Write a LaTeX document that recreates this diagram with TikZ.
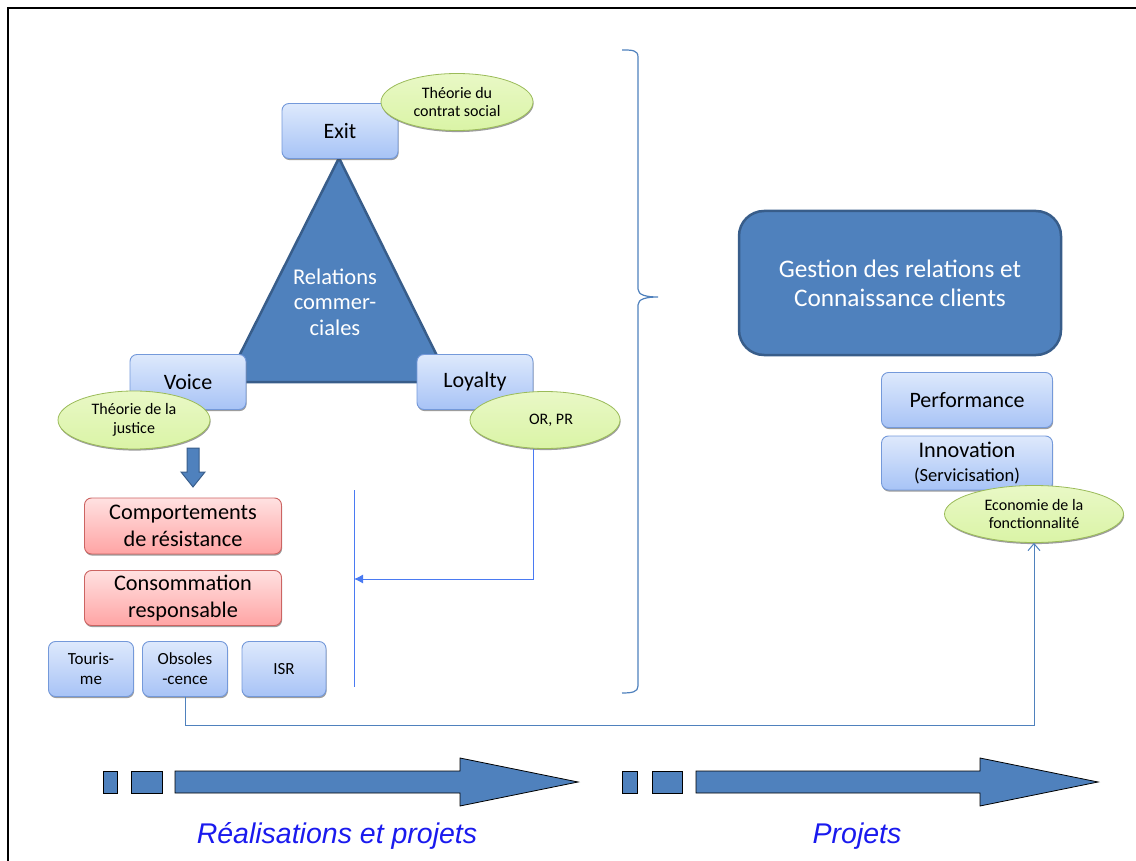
\documentclass[tikz,border=0pt]{standalone}
\usepackage{fontspec}
\setmainfont{Carlito}
\newfontfamily\arialfont{Liberation Sans}
\usetikzlibrary{shapes.geometric,shadows,arrows.meta,calc}
\definecolor{tribl}{HTML}{4F81BD}
\definecolor{tribd}{HTML}{385D8A}
\definecolor{boxtop}{HTML}{DEE9FC}
\definecolor{boxbot}{HTML}{A7C3F6}
\definecolor{boxbd}{HTML}{7499DA}
\definecolor{pinktop}{HTML}{FFE1E1}
\definecolor{pinkbot}{HTML}{FFA4A4}
\definecolor{pinkbd}{HTML}{CC6462}
\definecolor{elltop}{HTML}{E9F8C6}
\definecolor{ellbot}{HTML}{DAF4A6}
\definecolor{ellbd}{HTML}{9BBB59}
\definecolor{connA}{HTML}{4A7AF2}
\definecolor{connB}{HTML}{4F81BD}
\definecolor{labblue}{HTML}{1A1AEE}
\tikzset{
  shad/.style={drop shadow={shadow xshift=0.6pt,shadow yshift=-1.6pt,opacity=0.55,fill=black!70}},
  bluebox/.style={shad,rectangle,rounded corners=7pt,draw=boxbd,line width=0.9pt,top color=boxtop,bottom color=boxbot,align=center,inner sep=1pt,text=black},
  pinkbox/.style={shad,rectangle,rounded corners=7pt,draw=pinkbd,line width=0.9pt,top color=pinktop,bottom color=pinkbot,align=center,inner sep=1pt,text=black,minimum width=197pt,font=\fontsize{22.3}{26.5}\selectfont},
  ellnode/.style={shad,ellipse,draw=ellbd,line width=0.8pt,top color=elltop,bottom color=ellbot,align=center,inner sep=0pt,font=\fontsize{16}{18.5}\selectfont},
  bigfont/.style={font=\fontsize{22}{25}\selectfont},
  smallfont/.style={font=\fontsize{17}{20}\selectfont},
  connA/.style={draw=connA,line width=1pt},
  connB/.style={draw=connB,line width=1pt},
  fatshape/.style={fill=tribl,draw=tribd,line width=1pt},
  barshape/.style={fill=tribl,draw=black,line width=0.8pt},
  footlabel/.style={text=labblue,font=\arialfont\itshape\fontsize{28.5}{32}\selectfont}
}
\begin{document}
\begin{tikzpicture}[x=1pt,y=-1pt]
\useasboundingbox (0,0) rectangle (1136,861);
% frame
\draw[line width=2.2pt] (1136,8) -- (8,8) -- (8,861);

% triangle
\coordinate (ta) at (339,158);
\coordinate (tl) at (226,382);
\coordinate (tr) at (450,382);
\draw[fill=tribl,draw=tribd,line width=2.5pt,line join=miter] (ta) -- (tl) -- (tr) -- cycle;
\node[text=white,align=center,font=\fontsize{22.5}{25.5}\selectfont] (rel) at (335,302) {Relations\\commer-\\ciales};

% boxes around triangle
\node[bluebox,bigfont,minimum width=116pt,minimum height=55pt] (exit) at (340,131) {Exit};
\node[bluebox,bigfont,minimum width=116pt,minimum height=55pt] (voice) at (188,382) {Voice};
\node[bluebox,bigfont,minimum width=116pt,minimum height=55pt] (loyal) at (475,382) {Loyalty};

% ellipses
\node[ellnode,minimum width=152pt,minimum height=57pt] (contrat) at (457,102) {Théorie du\\contrat social};
\node[ellnode,minimum width=152pt,minimum height=58pt] (justice) at (134,420) {Théorie de la\\justice};
\node[ellnode,minimum width=150pt,minimum height=57pt] (orpr) at (545,420) {\hspace*{12pt}OR, PR};

% fat down arrow
\coordinate (fa) at (193,448);
\draw[fatshape] (187,448) -- (199,448) -- (199,472) -- (205,472) -- (193,487) -- (181,472) -- (187,472) -- cycle;

% pink boxes
\node[pinkbox,minimum height=56pt] (comp) at (183,526) {Comportements\\de résistance};
\node[pinkbox,minimum height=55pt] (cons) at (183,598) {Consommation\\responsable};

% small boxes
\node[bluebox,smallfont,minimum width=85pt,minimum height=55pt] (tour) at (91,669) {Touris-\\me};
\node[bluebox,smallfont,minimum width=85pt,minimum height=55pt] (obs) at (185,669) {Obsoles\\-cence};
\node[bluebox,smallfont,minimum width=84pt,minimum height=55pt] (isr) at (284,669) {ISR};

% vertical line and connector from OR, PR
\coordinate (vtop) at (354,490);
\coordinate (vbot) at (354,687);
\coordinate (vmid) at (354,579);
\draw[connA] (vtop) -- (vbot);
\draw[connA,-{Latex[length=9pt,width=9pt]}] ([xshift=-12pt]orpr.south) |- (vmid);

% brace
\draw[draw=connB,line width=1.2pt] (622,50) .. controls (632,50) and (638,50) .. (638,57) -- (638,289)
  .. controls (638,295) and (646,297) .. (658,297)
  .. controls (646,297) and (638,299) .. (638,305) -- (638,686)
  .. controls (638,692) and (632,693) .. (622,693);

% right side
\node[draw=tribd,fill=tribl,line width=2.5pt,rounded corners=25pt,minimum width=322pt,minimum height=144pt,text=white,align=center,font=\fontsize{25.3}{29}\selectfont] (gest) at (900,283) {Gestion des relations et\\Connaissance clients};
\node[bluebox,bigfont,minimum width=171pt,minimum height=55pt] (perf) at (967,400) {Performance};
\node[bluebox,minimum width=171pt,minimum height=54pt,font=\fontsize{22.3}{23.5}\selectfont] (innov) at (967,463) {Innovation\\{\fontsize{18.5}{20}\selectfont(Servicisation)}};
\node[ellnode,minimum width=179pt,minimum height=57pt] (econ) at (1034,514) {Economie de la\\fonctionnalité};

% connector from Obsolescence to Economie
\coordinate (lowy) at (185,725);
\draw[connB,-{Straight Barb[length=7pt,width=12pt]}] (obs.south) -- (lowy) -| (econ.south);

% bottom arrows
\draw[barshape] (103,771) rectangle (117,793);
\draw[barshape] (131,771) rectangle (162,793);
\draw[barshape] (175,771) -- (460,771) -- (460,758) -- (578,782) -- (460,806) -- (460,793) -- (175,793) -- cycle;
\draw[barshape] (622,771) rectangle (637,793);
\draw[barshape] (652,771) rectangle (682,793);
\draw[barshape] (696,771) -- (980,771) -- (980,758) -- (1098,782) -- (980,806) -- (980,793) -- (696,793) -- cycle;

\node[footlabel] (lab1) at (337,836) {Réalisations et projets};
\node[footlabel] (lab2) at (857,836) {Projets};
\end{tikzpicture}
\end{document}
